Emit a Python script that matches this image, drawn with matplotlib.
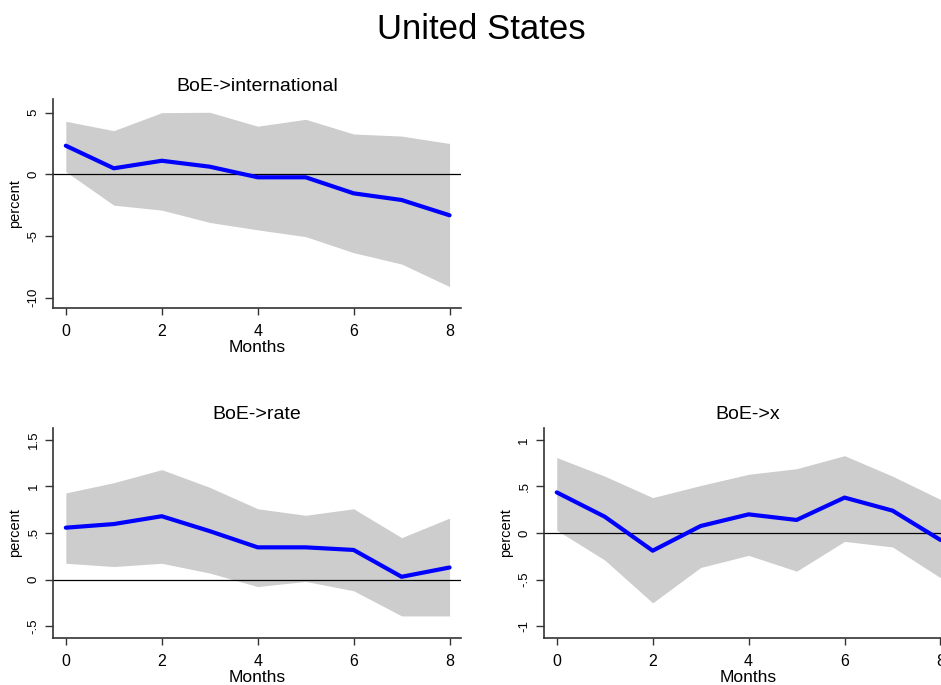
import matplotlib
matplotlib.use("Agg")
import matplotlib.pyplot as plt
import numpy as np

plt.rcParams['font.family'] = ['Liberation Sans', 'DejaVu Sans']

months = [0, 1, 2, 3, 4, 5, 6, 7, 8]

# BoE -> international
intl_irf = [2.32, 0.49, 1.1, 0.62, -0.24, -0.24, -1.54, -2.08, -3.32]
intl_hi = [4.3, 3.54, 5.0, 5.03, 3.9, 4.46, 3.27, 3.1, 2.5]
intl_lo = [0.22, -2.5, -2.9, -3.9, -4.5, -5.05, -6.35, -7.27, -9.1]

# BoE -> rate
rate_irf = [0.557, 0.596, 0.68, 0.52, 0.346, 0.346, 0.318, 0.03, 0.13]
rate_hi = [0.93, 1.04, 1.18, 0.99, 0.76, 0.69, 0.76, 0.45, 0.66]
rate_lo = [0.175, 0.14, 0.175, 0.07, -0.075, -0.02, -0.12, -0.39, -0.39]

# BoE -> x
x_irf = [0.436, 0.175, -0.19, 0.075, 0.2, 0.14, 0.38, 0.24, -0.075]
x_hi = [0.81, 0.61, 0.38, 0.51, 0.63, 0.69, 0.83, 0.61, 0.36]
x_lo = [0.03, -0.29, -0.75, -0.37, -0.24, -0.41, -0.09, -0.15, -0.48]

intl_yticks = [-10, -5, 0, 5]
intl_ylabels = ["-10", "-5", "0", "5"]
rate_yticks = [-0.5, 0, 0.5, 1, 1.5]
rate_ylabels = ["-.5", "0", ".5", "1", "1.5"]
x_yticks = [-1, -0.5, 0, 0.5, 1]
x_ylabels = ["-1", "-.5", "0", ".5", "1"]


def irf_panel(ax, title, irf, lo, hi, ylim, yticks, ylabels):
    ax.fill_between(months, lo, hi, color='#cdcdcd', lw=0)
    ax.axhline(0, color='black', lw=0.9)
    ax.plot(months, irf, color='#0000ff', lw=3, solid_capstyle='round')
    ax.set_xlim(-0.26, 8.24)
    ax.set_ylim(*ylim)
    ax.set_xticks([0, 2, 4, 6, 8])
    ax.set_yticks(yticks)
    ax.set_yticklabels(ylabels, rotation=90, va='center')
    ax.tick_params(axis='x', length=5, width=1, pad=6, labelsize=11.5, color='#333333')
    ax.tick_params(axis='y', length=6, width=1, pad=4, labelsize=9.5, color='#333333')
    for s in ['top', 'right']:
        ax.spines[s].set_visible(False)
    for s in ['left', 'bottom']:
        ax.spines[s].set_color('#333333')
        ax.spines[s].set_linewidth(1.2)
    ax.set_title(title, fontsize=14, pad=6)
    ax.set_xlabel("Months", fontsize=12.5, labelpad=1)
    ax.set_ylabel("percent", fontsize=10.5, labelpad=4)


fig = plt.figure(figsize=(9.41, 6.85), dpi=100)
fig.text(0.511, 0.957, "United States", ha='center', va='center', fontsize=25)

ax1 = fig.add_axes([0.0567, 0.5499, 0.4333, 0.3051])
ax2 = fig.add_axes([0.0567, 0.0682, 0.4333, 0.3074])
ax3 = fig.add_axes([0.5784, 0.0682, 0.4333, 0.3074])

irf_panel(ax1, "BoE->international", intl_irf, intl_lo, intl_hi,
          (-10.86, 6.08), intl_yticks, intl_ylabels)
irf_panel(ax2, "BoE->rate", rate_irf, rate_lo, rate_hi,
          (-0.63, 1.63), rate_yticks, rate_ylabels)
irf_panel(ax3, "BoE->x", x_irf, x_lo, x_hi,
          (-1.13, 1.13), x_yticks, x_ylabels)

fig.savefig("out.png", dpi=100)
